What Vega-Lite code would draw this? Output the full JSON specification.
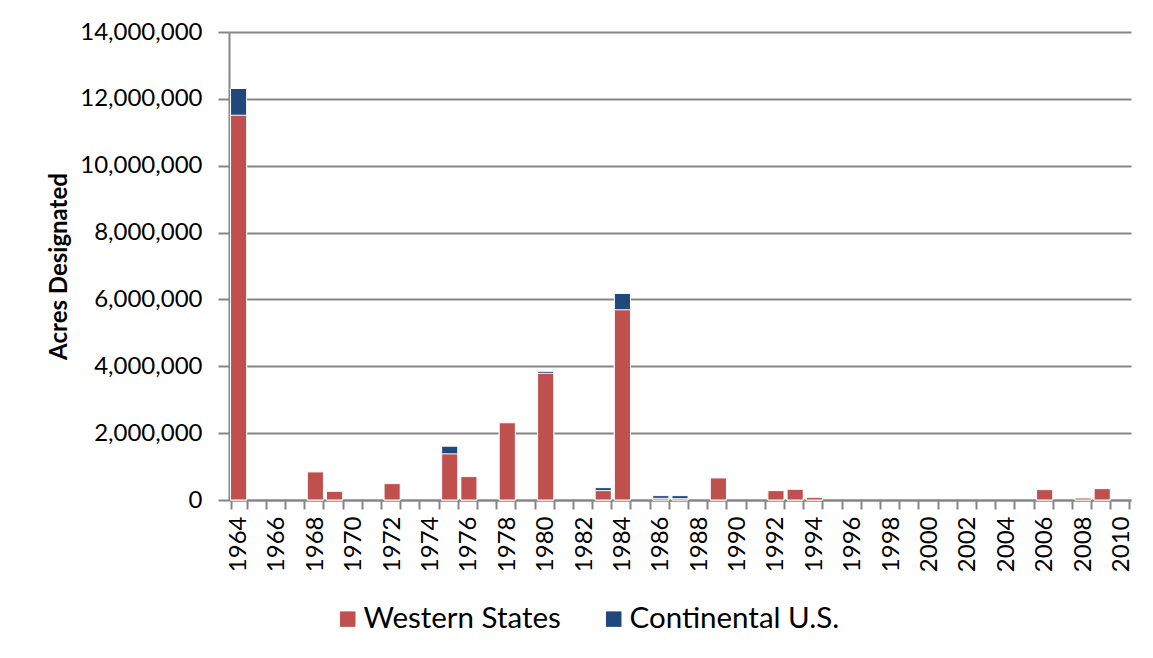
{
  "$schema": "https://vega.github.io/schema/vega-lite/v6.json",
  "width": 902,
  "height": 468,
  "autosize": {"type": "none"},
  "padding": {"left": 229, "top": 32, "right": 22, "bottom": 158},
  "background": "white",
  "config": {
    "font": "Lato",
    "view": {"stroke": null},
    "axis": {"labelColor": "black", "titleColor": "black"}
  },
  "data": {
    "values": [
      {"year": 1964, "western": 11510000, "continental": 12310000},
      {"year": 1965, "western": 0, "continental": 0},
      {"year": 1966, "western": 0, "continental": 0},
      {"year": 1967, "western": 0, "continental": 0},
      {"year": 1968, "western": 840000, "continental": 840000},
      {"year": 1969, "western": 260000, "continental": 260000},
      {"year": 1970, "western": 0, "continental": 0},
      {"year": 1971, "western": 0, "continental": 0},
      {"year": 1972, "western": 490000, "continental": 490000},
      {"year": 1973, "western": 0, "continental": 0},
      {"year": 1974, "western": 0, "continental": 0},
      {"year": 1975, "western": 1380000, "continental": 1610000},
      {"year": 1976, "western": 700000, "continental": 700000},
      {"year": 1977, "western": 0, "continental": 0},
      {"year": 1978, "western": 2310000, "continental": 2310000},
      {"year": 1979, "western": 0, "continental": 0},
      {"year": 1980, "western": 3790000, "continental": 3850000},
      {"year": 1981, "western": 0, "continental": 0},
      {"year": 1982, "western": 0, "continental": 0},
      {"year": 1983, "western": 280000, "continental": 370000},
      {"year": 1984, "western": 5690000, "continental": 6180000},
      {"year": 1985, "western": 0, "continental": 0},
      {"year": 1986, "western": 50000, "continental": 130000},
      {"year": 1987, "western": 40000, "continental": 130000},
      {"year": 1988, "western": 0, "continental": 0},
      {"year": 1989, "western": 660000, "continental": 660000},
      {"year": 1990, "western": 0, "continental": 0},
      {"year": 1991, "western": 0, "continental": 0},
      {"year": 1992, "western": 280000, "continental": 280000},
      {"year": 1993, "western": 320000, "continental": 320000},
      {"year": 1994, "western": 80000, "continental": 80000},
      {"year": 1995, "western": 0, "continental": 0},
      {"year": 1996, "western": 0, "continental": 0},
      {"year": 1997, "western": 0, "continental": 0},
      {"year": 1998, "western": 0, "continental": 0},
      {"year": 1999, "western": 0, "continental": 0},
      {"year": 2000, "western": 0, "continental": 0},
      {"year": 2001, "western": 0, "continental": 0},
      {"year": 2002, "western": 0, "continental": 0},
      {"year": 2003, "western": 0, "continental": 0},
      {"year": 2004, "western": 0, "continental": 0},
      {"year": 2005, "western": 0, "continental": 0},
      {"year": 2006, "western": 310000, "continental": 310000},
      {"year": 2007, "western": 0, "continental": 0},
      {"year": 2008, "western": 60000, "continental": 60000},
      {"year": 2009, "western": 340000, "continental": 340000},
      {"year": 2010, "western": 0, "continental": 0}
    ]
  },
  "transform": [
    {"fold": ["continental", "western"], "as": ["series", "acres"]},
    {"filter": "datum.acres > 0"}
  ],
  "mark": {"type": "bar", "stroke": "white", "strokeWidth": 1},
  "encoding": {
    "x": {
      "field": "year",
      "type": "ordinal",
      "scale": {
        "domain": [1964, 1965, 1966, 1967, 1968, 1969, 1970, 1971, 1972, 1973, 1974, 1975, 1976, 1977, 1978, 1979, 1980, 1981, 1982, 1983, 1984, 1985, 1986, 1987, 1988, 1989, 1990, 1991, 1992, 1993, 1994, 1995, 1996, 1997, 1998, 1999, 2000, 2001, 2002, 2003, 2004, 2005, 2006, 2007, 2008, 2009, 2010],
        "paddingInner": 0.16,
        "paddingOuter": 0.08
      },
      "axis": {
        "title": null,
        "labelAngle": -90,
        "labelExpr": "datum.value % 2 == 0 ? datum.label : ''",
        "labelFont": "Lato",
        "labelFontSize": 24,
        "labelPadding": 7,
        "tickBand": "extent",
        "tickSize": 9,
        "tickColor": "#868686",
        "tickWidth": 2,
        "domainColor": "#868686",
        "domainWidth": 2,
        "grid": false
      }
    },
    "y": {
      "field": "acres",
      "type": "quantitative",
      "stack": null,
      "scale": {"domain": [0, 14000000]},
      "axis": {
        "title": "Acres Designated",
        "titleFont": "Lato",
        "titleFontSize": 24,
        "titleFontWeight": "bold",
        "titlePadding": 8,
        "values": [0, 2000000, 4000000, 6000000, 8000000, 10000000, 12000000, 14000000],
        "format": ",d",
        "labelFont": "Lato",
        "labelFontSize": 24,
        "labelPadding": 16,
        "tickSize": 11,
        "tickColor": "#868686",
        "tickWidth": 2,
        "domainColor": "#868686",
        "domainWidth": 2,
        "grid": true,
        "gridColor": "#868686",
        "gridWidth": 2
      }
    },
    "color": {
      "field": "series",
      "type": "nominal",
      "scale": {"domain": ["western", "continental"], "range": ["#C0504D", "#1F497D"]},
      "legend": {
        "title": null,
        "orient": "none",
        "legendX": 104,
        "legendY": 572,
        "direction": "horizontal",
        "symbolType": "square",
        "symbolSize": 240,
        "symbolStrokeWidth": 0,
        "labelExpr": "datum.value == 'western' ? 'Western States' : 'Continental U.S.'",
        "labelFont": "Lato",
        "labelFontSize": 29.5,
        "labelLimit": 400,
        "labelOffset": 1,
        "columnPadding": 38
      }
    },
    "order": {"field": "series", "sort": "ascending"}
  }
}
